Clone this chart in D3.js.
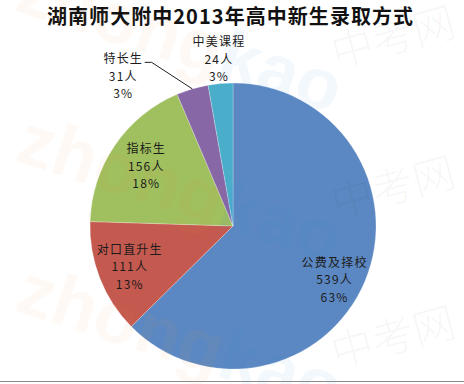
<html>
<head>
<meta charset="utf-8">
<script src="https://cdnjs.cloudflare.com/ajax/libs/d3/7.8.5/d3.min.js"></script>
<style>
  body { margin: 0; background: #fff; }
  text { font-family: "Noto Sans CJK SC", "Noto Sans", sans-serif; }
</style>
</head>
<body>
<div id="chart"></div>
<script>
// data
var categories = ["公费及择校", "对口直升生", "指标生", "特长生", "中美课程"];
var counts = [539, 111, 156, 31, 24];
var percents = ["63%", "13%", "18%", "3%", "3%"];
var colors = ["#5b88c2", "#c4594f", "#a0bf5e", "#8767a6", "#4aaecb"];

var W = 464, H = 384, cx = 233, cy = 226, R = 143;

var svg = d3.select("#chart").append("svg")
    .attr("width", W).attr("height", H);

svg.append("rect").attr("width", W).attr("height", H).attr("fill", "#fff");

// title
svg.append("text")
    .attr("x", 230).attr("y", 24)
    .attr("text-anchor", "middle")
    .attr("font-size", 20).attr("font-weight", "bold")
    .attr("textLength", 366).attr("lengthAdjust", "spacing")
    .attr("fill", "#111")
    .text("湖南师大附中2013年高中新生录取方式");

var pie = d3.pie().sort(null).value(function(d) { return d; });
var arcs = pie(counts);
var arc = d3.arc().innerRadius(0).outerRadius(R);

var g = svg.append("g").attr("transform", "translate(" + cx + "," + cy + ")");
g.selectAll("path.slice").data(arcs).enter().append("path")
    .attr("class", "slice")
    .attr("d", arc)
    .attr("fill", function(d, i) { return colors[i]; })
    .attr("stroke", "#fff").attr("stroke-opacity", 0.35).attr("stroke-width", 0.7);

// faint watermark
[-150, 0, 150].forEach(function(off) {
  var t = svg.append("text")
      .attr("transform", "translate(13," + (160 + off) + ") rotate(18)")
      .attr("font-size", 72).attr("font-weight", "bold")
      .style("font-family", "'Liberation Sans', Arial, sans-serif");
  t.append("tspan").attr("fill", "#f39a4a").attr("fill-opacity", 0.06).text("zhong");
  t.append("tspan").attr("fill", "#2f86d6").attr("fill-opacity", 0.06).text("kao");
  svg.append("text")
      .attr("transform", "translate(336," + (218 + off) + ") rotate(-15)")
      .attr("font-size", 42).attr("font-weight", 300)
      .attr("fill", "#000").attr("fill-opacity", 0.05)
      .text("中考网");
});

// labels
function polar(k, deg) {
  var a = deg * Math.PI / 180;
  return [cx + k * R * Math.sin(a), cy - k * R * Math.cos(a)];
}
function mid(d) { return (d.startAngle + d.endAngle) / 2 * 180 / Math.PI; }

var labelLayout = [
  { k: 0.8, deg: 118 },
  { k: 0.78 },
  { k: 0.74 },
  { k: 1.3, deg: 323.6, leader: true },
  { k: 1.17 }
];

arcs.forEach(function(d, i) {
  var L = labelLayout[i];
  var p = polar(L.k, L.deg != null ? L.deg : mid(d));
  if (L.leader) {
    var e = polar(1.0, mid(d));
    svg.append("path")
        .attr("d", "M" + e[0] + "," + e[1] + "L" + (p[0] + 29) + "," + (p[1] - 14) + "L" + (p[0] + 22) + "," + (p[1] - 14))
        .attr("fill", "none").attr("stroke", "#222").attr("stroke-width", 1);
  }
  var lines = [categories[i], counts[i] + "人", percents[i]];
  var t = svg.append("text")
      .attr("text-anchor", "middle")
      .attr("font-size", 12)
      .attr("letter-spacing", 1.2)
      .attr("fill", "#1b1b1b");
  lines.forEach(function(s, j) {
    t.append("tspan")
        .attr("x", p[0] + 0.6)
        .attr("y", p[1] + (j - 1) * 17.5 + 4.5)
        .text(s);
  });
});

// bottom frame line
svg.append("line")
    .attr("x1", 0).attr("x2", W).attr("y1", 381.5).attr("y2", 381.5)
    .attr("stroke", "#8c8c8c").attr("stroke-width", 1);
</script>
</body>
</html>
